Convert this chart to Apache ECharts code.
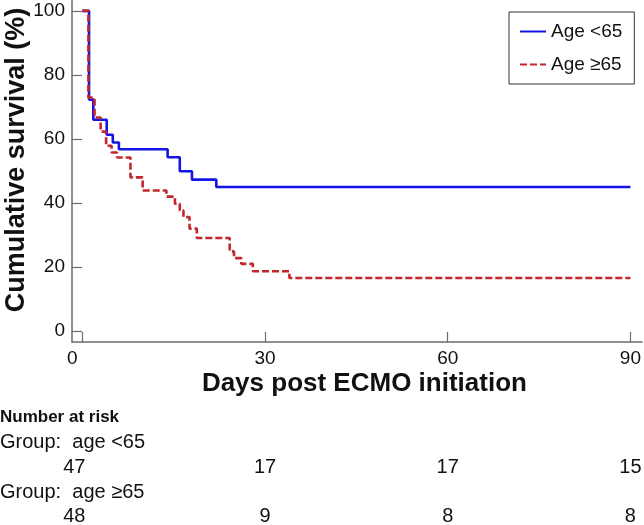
<!DOCTYPE html>
<html>
<head>
<meta charset="utf-8">
<script src="https://cdn.jsdelivr.net/npm/echarts@6/dist/echarts.min.js"></script>
<style>
html,body{margin:0;padding:0;background:#fff;}
#chart{width:644px;height:525px;}
</style>
</head>
<body>
<div id="chart"></div>
<script>
// ---- data ----
const seriesNames = ['Age <65', 'Age \u226565'];
const youngDays = [0, 1.1, 1.8, 4.0, 5.0, 6.0, 14.0, 16.0, 18.0, 22.0, 90];
const youngSurv = [100, 72.3, 66.0, 61.3, 58.9, 56.8, 54.3, 49.9, 47.3, 45.0, 45.0];
const oldDays = [0, 1.0, 2.0, 3.0, 3.9, 4.8, 5.7, 7.9, 9.9, 13.8, 15.2, 16.0, 16.6, 17.6, 18.8, 24.2, 24.9, 26.1, 28.0, 34.0, 90];
const oldSurv = [100, 72.9, 66.7, 62.3, 57.9, 55.8, 54.2, 48.0, 43.9, 42.0, 39.8, 37.7, 35.6, 32.0, 29.1, 24.9, 22.8, 21.0, 18.7, 16.6, 16.6];
const xTicks = [0, 30, 60, 90];
const yTicks = [0, 20, 40, 60, 80, 100];
const riskTimes = [0, 30, 60, 90];
const riskGroups = ['Group:  age <65', 'Group:  age \u226565'];
const riskYoung = [47, 17, 17, 15];
const riskOld = [48, 9, 8, 8];

const FONT = '"Liberation Sans", Arial, Helvetica, sans-serif';
const chart = echarts.init(document.getElementById('chart'), null, {renderer: 'canvas'});

const pairs = (xs, ys) => xs.map((x, i) => [x, ys[i]]);

const option = {
  animation: false,
  backgroundColor: '#fff',
  textStyle: {fontFamily: FONT},
  grid: {left: 72, top: 0, width: 572, height: 342, containLabel: false},
  xAxis: {
    type: 'value', min: -1.7, max: 91.9,
    axisLine: {show: true, onZero: false, lineStyle: {color: '#6b6b6b', width: 1.5}},
    axisTick: {show: true, inside: true, length: 10, customValues: xTicks, lineStyle: {color: '#6b6b6b', width: 1.2}},
    axisLabel: {
      show: true, customValues: xTicks, margin: 7, color: '#111', fontSize: 19, fontFamily: FONT,
      formatter: v => v === 0 ? '{z|0}' : String(v),
      rich: {z: {fontSize: 19, fontFamily: FONT, color: '#111', padding: [0, 20, 0, 0]}}
    },
    splitLine: {show: false}
  },
  yAxis: {
    type: 'value', min: -3.4, max: 103.4,
    axisLine: {show: true, onZero: false, lineStyle: {color: '#6b6b6b', width: 1.5}},
    axisTick: {show: true, inside: true, length: 10, customValues: yTicks, lineStyle: {color: '#6b6b6b', width: 1.2}},
    axisLabel: {show: true, customValues: yTicks, margin: 7, color: '#111', fontSize: 19, fontFamily: FONT},
    splitLine: {show: false}
  },
  legend: {
    show: true, orient: 'vertical', left: 509, top: 12,
    backgroundColor: '#fff',
    borderColor: '#333', borderWidth: 1, borderRadius: 0,
    padding: [10, 12, 10, 10], itemGap: 14, itemWidth: 26, itemHeight: 12,
    itemStyle: {opacity: 0},
    textStyle: {fontSize: 19, color: '#111', fontFamily: FONT},
    data: seriesNames
  },
  series: [
    {
      name: seriesNames[0], type: 'line', step: 'end', symbol: 'none',
      data: pairs(youngDays, youngSurv),
      lineStyle: {color: '#1414e6', width: 2.6},
      itemStyle: {color: '#1414e6'},
      z: 3
    },
    {
      name: seriesNames[1], type: 'line', step: 'end', symbol: 'none',
      data: pairs(oldDays, oldSurv),
      lineStyle: {color: '#c1272d', width: 2.6, type: [7, 3]},
      itemStyle: {color: '#c1272d'},
      z: 4
    }
  ]
};
chart.setOption(option);

// risk table and titles as text, placed via the axis scale
const g = [];
g.push({type: 'text', x: 17, y: 160, rotation: Math.PI / 2,
  style: {text: 'Cumulative survival (%)', font: 'bold 27px ' + FONT, fill: '#111', align: 'center', verticalAlign: 'middle'}});
const xc = chart.convertToPixel({gridIndex: 0}, [45, 0])[0];
g.push({type: 'text', x: xc + 8, y: 384,
  style: {text: 'Days post ECMO initiation', font: 'bold 26px ' + FONT, fill: '#111', align: 'center', verticalAlign: 'middle'}});
g.push({type: 'text', x: 0, y: 417,
  style: {text: 'Number at risk', font: 'bold 17px ' + FONT, fill: '#111', align: 'left', verticalAlign: 'middle'}});
g.push({type: 'text', x: 0, y: 442,
  style: {text: riskGroups[0], font: '20px ' + FONT, fill: '#111', align: 'left', verticalAlign: 'middle'}});
g.push({type: 'text', x: 0, y: 492,
  style: {text: riskGroups[1], font: '20px ' + FONT, fill: '#111', align: 'left', verticalAlign: 'middle'}});
riskTimes.forEach((t, i) => {
  const px = chart.convertToPixel({gridIndex: 0}, [t, 0])[0] + (i === 0 ? -8 : 0);
  g.push({type: 'text', x: px, y: 467,
    style: {text: String(riskYoung[i]), font: '20px ' + FONT, fill: '#111', align: 'center', verticalAlign: 'middle'}});
  g.push({type: 'text', x: px, y: 516,
    style: {text: String(riskOld[i]), font: '20px ' + FONT, fill: '#111', align: 'center', verticalAlign: 'middle'}});
});
chart.setOption({graphic: {elements: g}});
</script>
</body>
</html>
